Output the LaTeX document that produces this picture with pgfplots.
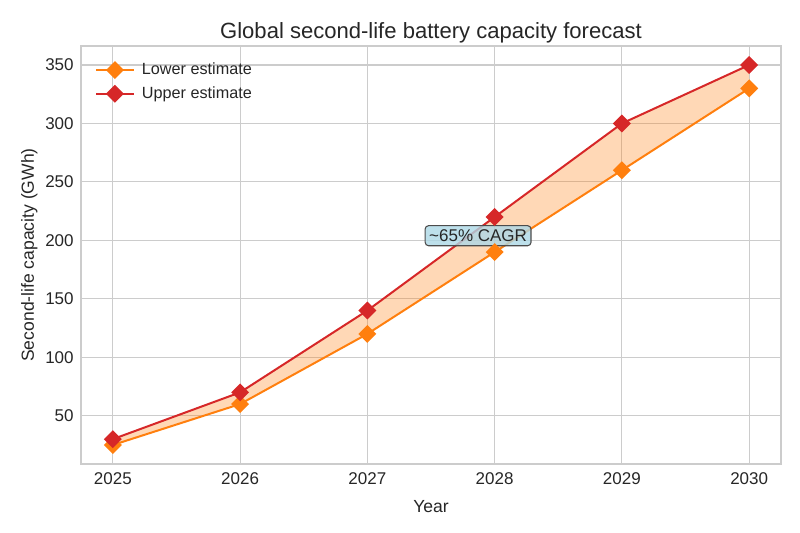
\documentclass[border=0pt]{standalone}
\usepackage{fontspec}
\setmainfont{Liberation Sans}
\usepackage{pgfplots}
\pgfplotsset{compat=1.18}
\usepgfplotslibrary{fillbetween}

\definecolor{lowc}{HTML}{FF7F0E}
\definecolor{upc}{HTML}{D62728}
\definecolor{gridc}{HTML}{CCCCCC}
\definecolor{txt}{HTML}{262626}
\definecolor{boxc}{HTML}{ADD8E6}

\begin{document}
\begin{tikzpicture}
\begin{axis}[
  at={(60.75bp,51.75bp)}, anchor=south west,
  scale only axis, width=525bp, height=313.5bp,
  xmin=2024.75, xmax=2030.25, ymin=8.75, ymax=366.25,
  xtick={2025,2026,2027,2028,2029,2030},
  ytick={50,100,150,200,250,300,350},
  xticklabel style={/pgf/number format/1000 sep={}, yshift=-3bp},
  yticklabel style={xshift=-2bp},
  /pgf/number format/assume math mode=true,
  tick label style={font=\fontsize{12.8}{15}\selectfont, text=txt},
  major tick length=0pt,
  grid=major, grid style={gridc, line width=0.8bp},
  axis line style={gridc, line width=1bp},
  xlabel={Year}, ylabel={Second-life capacity (GWh)},
  label style={font=\fontsize{13.2}{15}\selectfont, text=txt},
  xlabel style={yshift=-5bp},
  ylabel style={yshift=-1bp},
  title={Global second-life battery capacity forecast},
  title style={font=\fontsize{16.6}{19}\selectfont, text=txt, yshift=-7bp},
  legend style={at={(0.02,0.985)}, anchor=north west, draw=none, fill=none,
    xshift=-3bp, yshift=-4bp,
    font=\fontsize{12.2}{14}\selectfont, text=txt, row sep=3.5bp,
    nodes={inner xsep=5.5bp}},
  legend cell align=left,
  legend image code/.code={
    \draw[#1, mark repeat=2, mark phase=2] plot coordinates {(-1bp,0bp) (13bp,0bp) (27bp,0bp)};
  },
]
\addplot[name path=lower, lowc, line width=1.5bp, mark=square*,
  mark options={rotate=45, solid}, mark size=4bp]
  coordinates {(2025,25) (2026,60) (2027,120) (2028,190) (2029,260) (2030,330)};
\addlegendentry{Lower estimate}
\addplot[name path=upper, upc, line width=1.5bp, mark=square*,
  mark options={rotate=45, solid}, mark size=4bp]
  coordinates {(2025,30) (2026,70) (2027,140) (2028,220) (2029,300) (2030,350)};
\addlegendentry{Upper estimate}
\addplot[lowc, fill opacity=0.3, draw=none, forget plot] fill between[of=lower and upper];
\node[fill=boxc, fill opacity=0.8, text opacity=1, draw=black!70, line width=0.8bp,
  rounded corners=2.5bp, inner sep=3bp, text=txt, font=\fontsize{12.8}{15}\selectfont]
  at (axis cs:2027.87,204) {\textasciitilde 65\% CAGR};
\end{axis}
\useasboundingbox (0,0) rectangle (600bp,399.75bp);
\end{tikzpicture}
\end{document}
